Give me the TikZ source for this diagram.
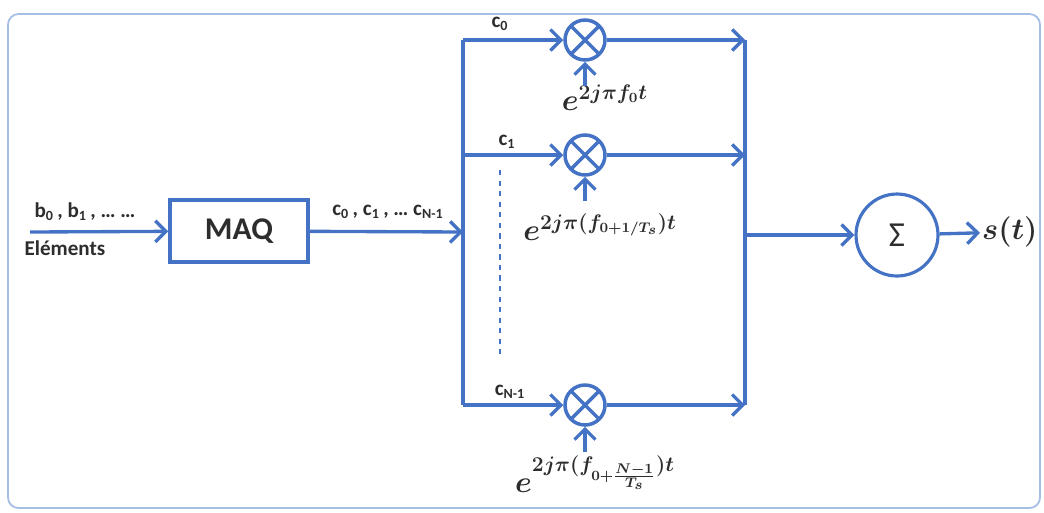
\documentclass[tikz,border=0pt]{standalone}
\usepackage{amsmath}
\usepackage{fontspec}
\setsansfont{Carlito}
\usetikzlibrary{arrows.meta,positioning}
\definecolor{lienbleu}{RGB}{68,114,196}
\definecolor{cadre}{RGB}{165,190,228}
\definecolor{encre}{RGB}{45,45,45}
\begin{document}
\begin{tikzpicture}[x=0.02cm, y=-0.02cm, >={Straight Barb[length=6pt,width=12pt]},
  lien/.style={draw=lienbleu, line width=1.9pt},
  boite/.style={rectangle, draw=lienbleu, line width=2pt, minimum width=2.76cm, minimum height=1.24cm, text=encre, font=\sffamily\bfseries\fontsize{18}{20}\selectfont},
  mult/.style={circle, draw=lienbleu, line width=2pt, minimum size=0.8cm, inner sep=0pt,
    path picture={\draw[lienbleu, line width=2pt] (path picture bounding box.north west) -- (path picture bounding box.south east)
      (path picture bounding box.south west) -- (path picture bounding box.north east);}},
  somme/.style={circle, draw=lienbleu, line width=1.8pt, minimum size=1.64cm, text=encre, font=\sffamily\fontsize{20}{22}\selectfont},
  etiq/.style={text=encre, inner sep=1pt, font=\sffamily\bfseries\fontsize{12}{14}\selectfont},
  formule/.style={text=encre, inner sep=1pt, font=\boldmath\fontsize{17}{19}\selectfont}]
  \useasboundingbox (0,0) rectangle (1044,512);
  \draw[cadre, line width=1pt, rounded corners=6pt] (8,14) rectangle (1040,508);

  \coordinate (entree) at (30,232);
  \node (maq) [boite] at (239,231) {MAQ};
  \coordinate (bus) at (463,232);
  \coordinate (b0) at (463,40);
  \coordinate (b1) at (463,155);
  \coordinate (bN) at (463,405);
  \node (m0) [mult] at (585,40) {};
  \node (m1) [mult] at (585,155) {};
  \node (mN) [mult] at (585,405) {};
  \coordinate (o0) at (745,40);
  \coordinate (o1) at (745,155);
  \coordinate (oN) at (745,405);
  \coordinate (osig) at (745,235);
  \node (sig) [somme] at (897,235) {Σ};
  \node (st) [formule, anchor=west, font=\boldmath\fontsize{19}{22}\selectfont] at (980,232) {$s(t)$};
  \coordinate (p0) at (585,86);
  \coordinate (p1) at (585,201);
  \coordinate (pN) at (585,452);

  \node (lb) [etiq] at (85,212) {b\textsubscript{0}\,, b\textsubscript{1}\,, … …};
  \node (lel) [etiq] at (65,248) {Eléments};
  \node (lc) [etiq] at (388,212) {c\textsubscript{0}\,, c\textsubscript{1}\,, … c\textsubscript{N-1}};
  \node (lc0) [etiq] at (500,24) {c\textsubscript{0}};
  \node (lc1) [etiq] at (507,142) {c\textsubscript{1}};
  \node (lcN) [etiq] at (510,392) {c\textsubscript{N-1}};
  \node (e0) [formule] at (605,98) {$e^{2j\pi f_0 t}$};
  \node (e1) [formule] at (600,227) {$e^{2j\pi(f_{0+1/T_s})t}$};
  \node (eN) [formule] at (595,474) {$e^{2j\pi(f_{0+\frac{N-1}{T_s}})t}$};

  \draw[lien, ->] (entree) -- (maq);
  \draw[lien, ->] (maq) -- (bus);
  \draw[lien] (b0) -- (bN);
  \draw[lien, ->] (b0) -- (m0);
  \draw[lien, ->] (b1) -- (m1);
  \draw[lien, ->] (bN) -- (mN);
  \draw[lien, ->] (m0) -- (o0);
  \draw[lien, ->] (m1) -- (o1);
  \draw[lien, ->] (mN) -- (oN);
  \draw[lien] (o0) -- (oN);
  \draw[lien, ->] (p0) -- (m0);
  \draw[lien, ->] (p1) -- (m1);
  \draw[lien, ->] (pN) -- (mN);
  \draw[lien, ->] (osig) -- (sig);
  \draw[lien, ->] (sig) -- (st);
  \draw[lienbleu, line width=0.9pt, dashed] (500,170) -- (500,355);
\end{tikzpicture}
\end{document}
